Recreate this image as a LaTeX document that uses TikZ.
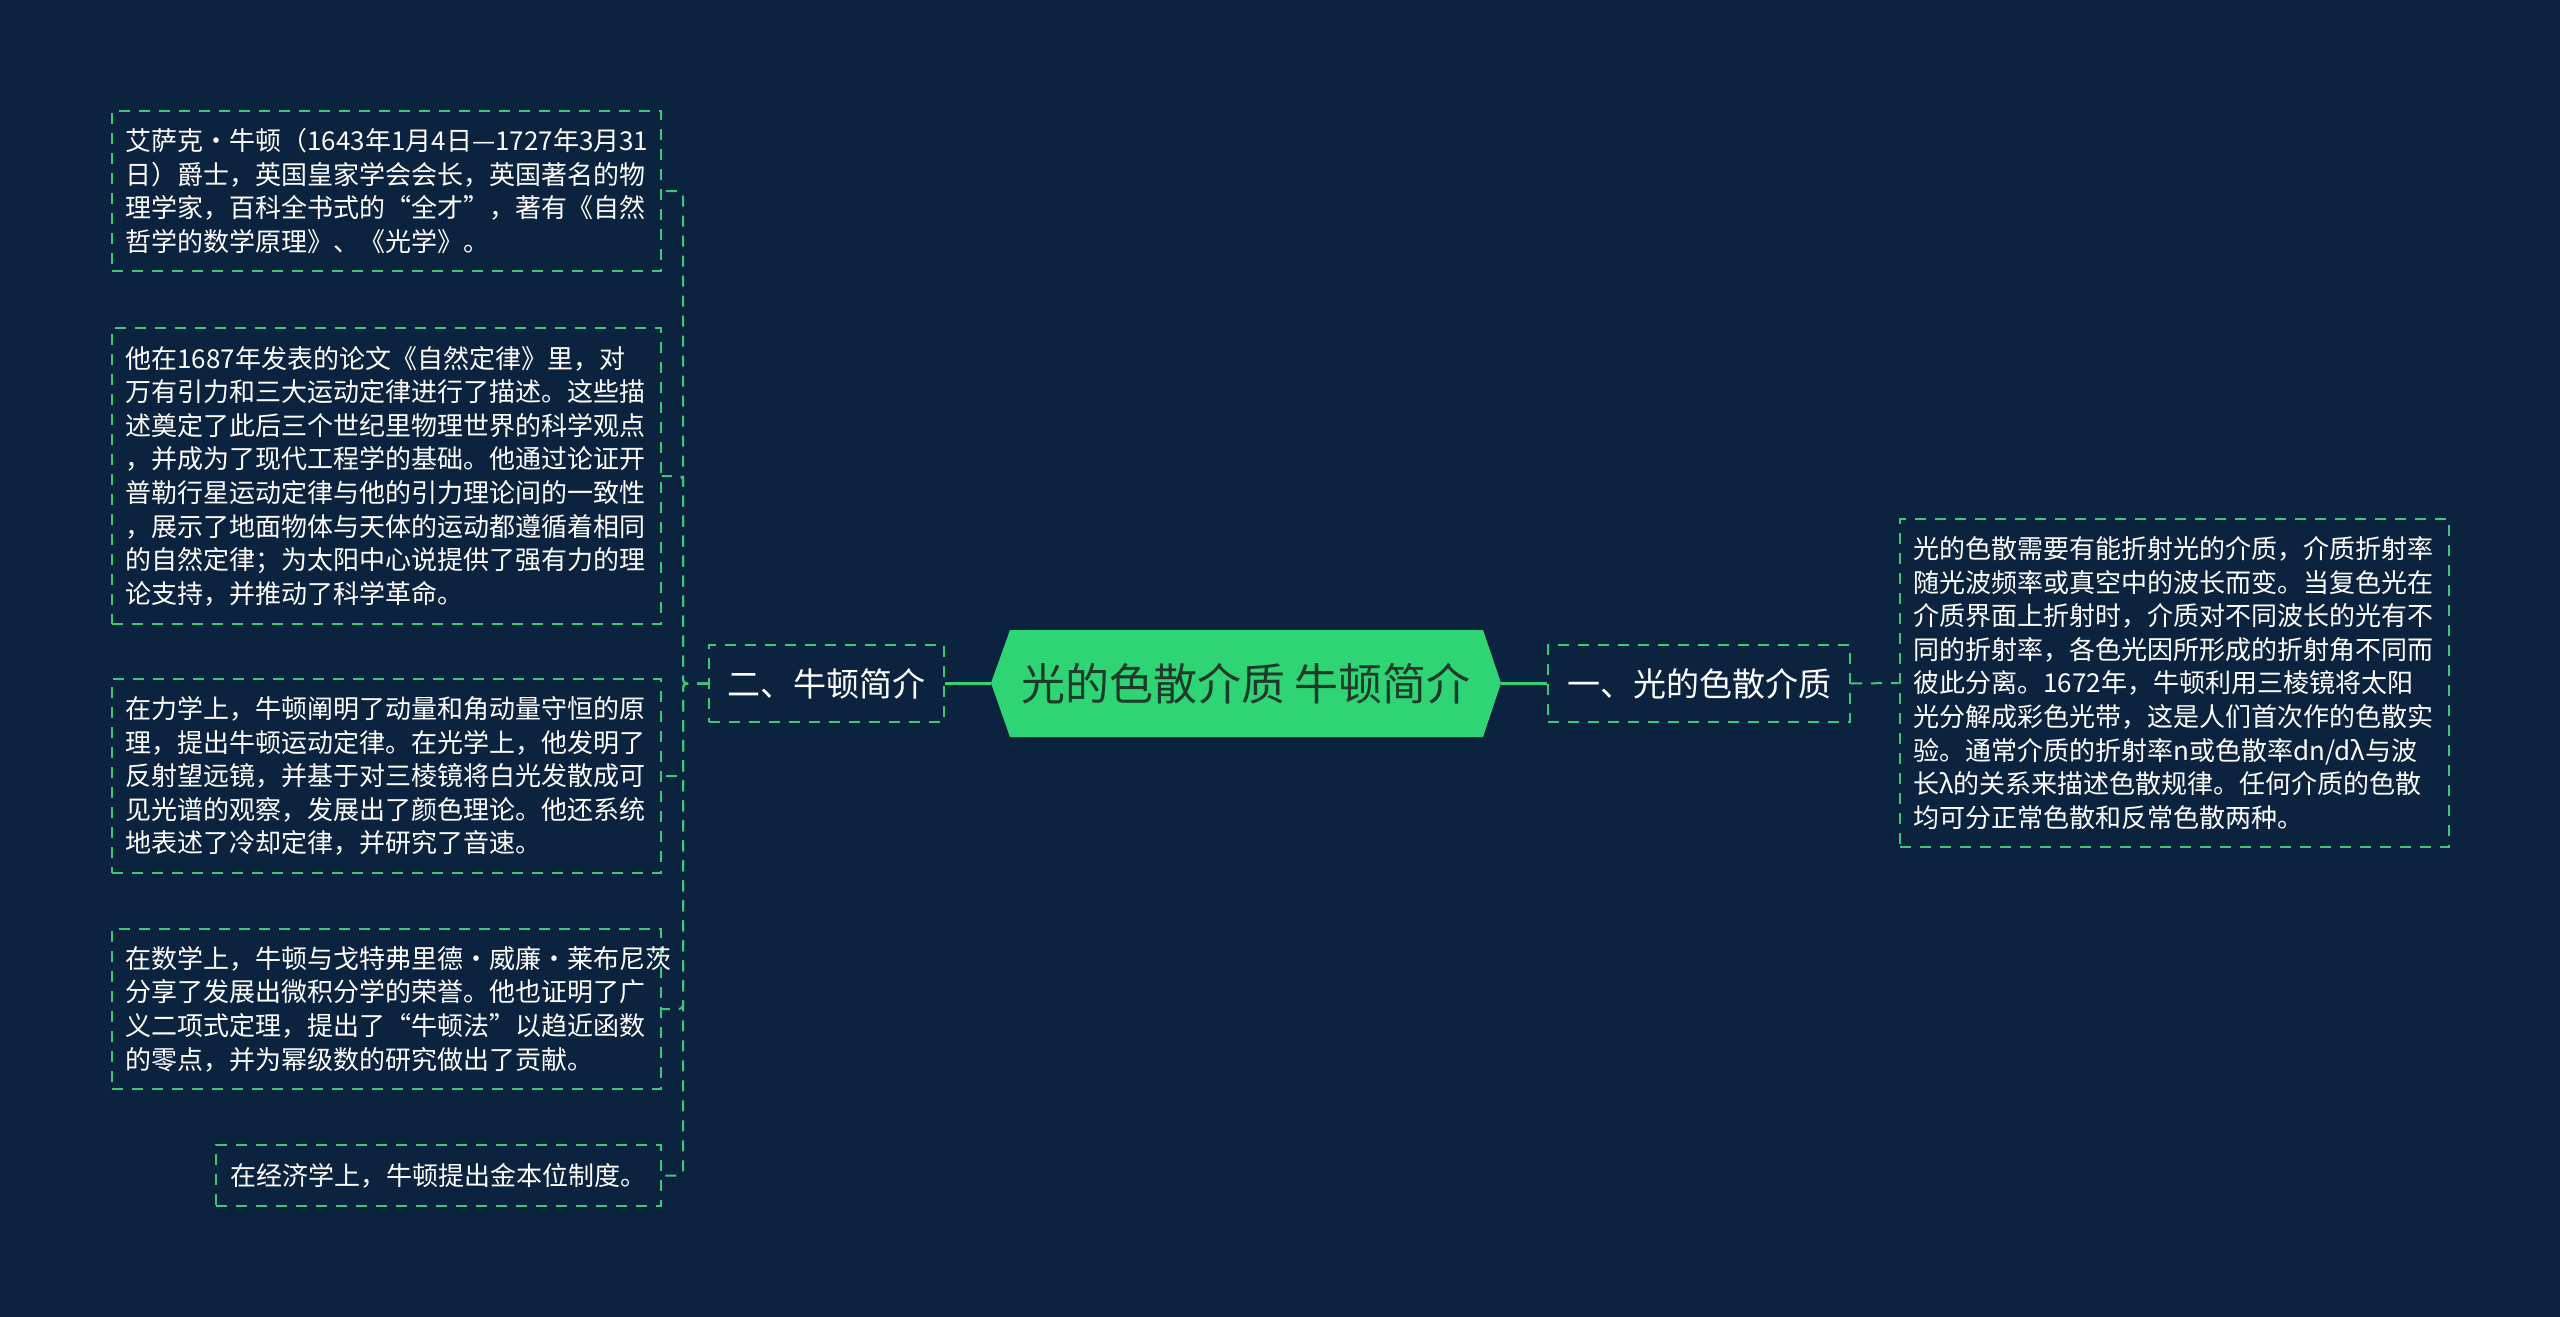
\documentclass[tikz,border=0pt]{standalone}
\usepackage{fontspec}
\setmainfont{Noto Sans CJK SC}
\usetikzlibrary{calc, positioning}
\definecolor{bgnavy}{HTML}{0C2340}
\definecolor{hexgreen}{HTML}{2FD575}
\definecolor{dashgreen}{HTML}{3CC879}
\definecolor{roottext}{HTML}{1E3A2A}
\tikzset{
  leafbox/.style={draw=dashgreen, line width=1pt, dash pattern=on 5.5pt off 4.5pt,
    text=white, font=\fontsize{13}{16.8}\selectfont, align=left,
    text width=260.5pt, inner xsep=7pt, inner ysep=0pt},
  branchbox/.style={draw=dashgreen, line width=1pt, dash pattern=on 5.5pt off 4.5pt,
    text=white, font=\fontsize{16.5}{20}\selectfont, minimum height=38.5pt, inner sep=0pt},
  dashlink/.style={dashgreen, line width=1pt, dash pattern=on 5.5pt off 4.5pt, rounded corners=2pt},
  mainlink/.style={hexgreen, line width=1.5pt}
}

\begin{document}
\begin{tikzpicture}[x=0.5pt, y=-0.5pt]
  % Background
  \fill[bgnavy] (0,0) rectangle (2560,1317);
  % Root
  \fill[hexgreen] (991,683) -- (1010,630) -- (1483,630) -- (1501,683) -- (1483,737) -- (1010,737) -- cycle;
  \node[text=roottext, font=\fontsize{22}{26}\selectfont, minimum width=255pt, minimum height=53.5pt, inner sep=0pt] (root) at (1246,683.5) {光的色散介质 牛顿简介};
  % Branches
  \node[branchbox, minimum width=117.5pt] (newton) at (826.5,683.5) {二、牛顿简介};
  \node[branchbox, minimum width=151pt] (disp) at (1699,683.5) {一、光的色散介质};
  % Right leaf
  \node[leafbox, minimum height=164pt] (dispinfo) at (2174,683) {光的色散需要有能折射光的介质，介质折射率\\随光波频率或真空中的波长而变。当复色光在\\介质界面上折射时，介质对不同波长的光有不\\同的折射率，各色光因所形成的折射角不同而\\彼此分离。1672年，牛顿利用三棱镜将太阳\\光分解成彩色光带，这是人们首次作的色散实\\验。通常介质的折射率n或色散率dn/dλ与波\\长λ的关系来描述色散规律。任何介质的色散\\均可分正常色散和反常色散两种。};
  % Left leaves
  \node[leafbox, minimum height=80pt] (life) at (386,191) {\mbox{艾萨克·牛顿（1643年1月4日—1727年3月31}\\日）爵士，英国皇家学会会长，英国著名的物\\理学家，百科全书式的“全才”，著有《自然\\哲学的数学原理》、《光学》。};
  \node[leafbox, minimum height=148pt] (laws) at (386,476) {他在1687年发表的论文《自然定律》里，对\\万有引力和三大运动定律进行了描述。这些描\\述奠定了此后三个世纪里物理世界的科学观点\\，并成为了现代工程学的基础。他通过论证开\\普勒行星运动定律与他的引力理论间的一致性\\，展示了地面物体与天体的运动都遵循着相同\\的自然定律；为太阳中心说提供了强有力的理\\论支持，并推动了科学革命。};
  \node[leafbox, minimum height=97pt] (optics) at (386,776) {在力学上，牛顿阐明了动量和角动量守恒的原\\理，提出牛顿运动定律。在光学上，他发明了\\反射望远镜，并基于对三棱镜将白光发散成可\\见光谱的观察，发展出了颜色理论。他还系统\\地表述了冷却定律，并研究了音速。};
  \node[leafbox, minimum height=80pt] (maths) at (386,1009) {在数学上，牛顿与戈特弗里德·威廉·莱布尼茨\\分享了发展出微积分学的荣誉。他也证明了广\\义二项式定理，提出了“牛顿法”以趋近函数\\的零点，并为幂级数的研究做出了贡献。};
  \node[leafbox, text width=208.5pt, minimum height=30.5pt] (econ) at (438.5,1175.5) {在经济学上，牛顿提出金本位制度。};
  % Links
  \draw[mainlink] (root.west) -- (newton.east);
  \draw[mainlink] (root.east) -- (disp.west);
  \draw[dashlink] (disp.east) -- (dispinfo.west);
  \foreach \leaf in {life, laws, optics, maths, econ}
    \draw[dashlink] (newton.west) -- ++(-12.5pt,0) |- (\leaf.east);
\end{tikzpicture}
\end{document}
